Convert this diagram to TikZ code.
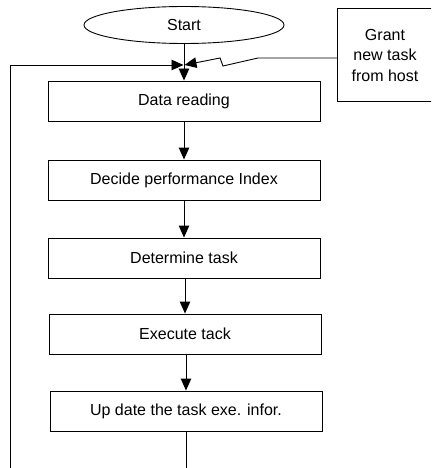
\documentclass[tikz,border=0pt]{standalone}
\usepackage{fontspec}
\setmainfont{Liberation Sans}
\usetikzlibrary{arrows.meta,shapes.geometric}
\begin{document}
\begin{tikzpicture}[x=1pt,y=-1pt,
  font=\fontsize{16}{20.5}\selectfont,
  line width=0.9pt,
  stepbox/.style={draw, minimum width=272pt, minimum height=40pt, inner sep=0pt},
  arr/.style={-{Triangle[length=12pt,width=10.5pt]}}]
\useasboundingbox (0,0) rectangle (431,468);
\clip (0,0) rectangle (431,468);
\node[draw, ellipse, minimum width=200pt, minimum height=37pt, inner sep=0pt] (start) at (184,25) {Start};
\node[draw, minimum width=110pt, minimum height=93pt, inner sep=0pt, anchor=north west] (grant) at (337,8) {};
\node[align=center] (granttxt) at (385,55) {Grant\\new task\\from host};
\coordinate (j) at (184,65);
\node[stepbox] (b1) at (184,101) {Data reading};
\node[stepbox] (b2) at (184,180) {Decide performance Index};
\node[stepbox] (b3) at (184,258) {Determine task};
\node[stepbox] (b4) at (185,334) {Execute tack};
\node[stepbox] (b5) at (186,411) {Up date the task exe. infor.};
\coordinate (bot) at (186,475);
\coordinate (lb) at (10,475);
\coordinate (lt) at (10,65);
\coordinate (g1) at (258,58);
\coordinate (g2) at (223,66);
\coordinate (g3) at (220,58);
\coordinate (jr) at (184.5,65);
\coordinate (jl) at (183.5,65);
\draw (start.south) -- (j);
\draw[arr] (j) -- (b1.north);
\draw[arr] (lb) -- (lt) -- (jl);
\draw[arr] (grant.west |- g1) -- (g1) -- (g2) -- (g3) -- (jr);
\draw[arr] (b1) -- (b2);
\draw[arr] (b2) -- (b3);
\draw[arr] (b3.south -| b4) -- (b4);
\draw[arr] (b4.south -| b5) -- (b5);
\draw (b5.south) -- (bot);
\end{tikzpicture}
\end{document}
